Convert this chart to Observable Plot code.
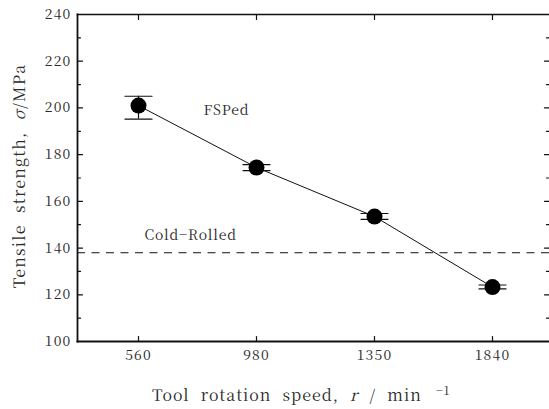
<!DOCTYPE html>
<html><head><meta charset="utf-8">
<script src="https://cdn.jsdelivr.net/npm/d3@7"></script>
<script src="https://cdn.jsdelivr.net/npm/@observablehq/plot@0.6"></script>
<style>body{margin:0;background:#fff}</style>
</head><body><div id="chart"></div>
<script>
const speeds = ["560", "980", "1350", "1840"];
const strength = [201.0, 174.5, 153.5, 123.3];
const errLow = [195.2, 173.2, 152.3, 122.5];
const errHigh = [205.0, 175.7, 154.8, 124.2];
const coldRolled = 138;
const yTicks = [100, 120, 140, 160, 180, 200, 220, 240];
const yMinor = [110, 130, 150, 170, 190, 210, 230];
const labelFSP = "FSPed";
const labelCold = "Cold\u2212Rolled";

const data = speeds.map((s, i) => ({speed: s, y: strength[i], lo: errLow[i], hi: errHigh[i]}));
const seg = {draw(ctx, l) { ctx.moveTo(0, 0); ctx.lineTo(0, -l); }};
const ink = "#111";
const txt = "#2a2a2a";
const serif = "'Noto Serif CJK KR', 'DejaVu Serif', serif";

const tick = (values, opts) => Plot.vector(values, {anchor: "start", shape: seg, stroke: ink, strokeWidth: 1.2, ...opts});

const chart = Plot.plot({
  width: 549, height: 409,
  marginLeft: 77, marginRight: 0, marginTop: 14, marginBottom: 68,
  style: {fontFamily: serif, fontSize: "14px", color: txt, background: "#fff"},
  x: {type: "point", domain: speeds, padding: 0.4887, align: 0.513, label: null},
  y: {domain: [100, 240], label: null},
  marks: [
    Plot.axisY({ticks: yTicks, tickSize: 0, tickPadding: 6, fill: txt, label: null, className: "tl"}),
    Plot.axisX({tickSize: 0, tickPadding: 9, fill: txt, label: null, className: "tl"}),
    tick(yTicks, {y: d => d, frameAnchor: "left", rotate: 90, length: 5}),
    tick(yMinor, {y: d => d, frameAnchor: "left", rotate: 90, length: 3}),
    tick(yTicks, {y: d => d, frameAnchor: "right", rotate: -90, length: 5}),
    tick(yMinor, {y: d => d, frameAnchor: "right", rotate: -90, length: 3}),
    tick(speeds, {x: d => d, frameAnchor: "bottom", rotate: 0, length: 5}),
    tick(speeds, {x: d => d, frameAnchor: "top", rotate: 180, length: 5}),
    Plot.frame({anchor: "left", stroke: ink, strokeWidth: 1.8}),
    Plot.frame({anchor: "bottom", stroke: ink, strokeWidth: 1.8}),
    Plot.frame({anchor: "top", stroke: ink, strokeWidth: 1.6}),
    Plot.ruleY([coldRolled], {stroke: ink, strokeWidth: 1, strokeDasharray: "8,6.5"}),
    Plot.text([labelCold], {x: () => speeds[0], y: () => 145.4, text: d => d, textAnchor: "start", dx: 6, fill: txt, fontSize: 14, className: "ann"}),
    Plot.text([labelFSP], {x: () => speeds[0], y: () => 198.9, text: d => d, textAnchor: "start", dx: 65, fill: txt, fontSize: 14, className: "ann"}),
    Plot.line(data, {x: "speed", y: "y", stroke: ink, strokeWidth: 1}),
    Plot.ruleX(data, {x: "speed", y1: "lo", y2: "hi", stroke: ink, strokeWidth: 1.2}),
    Plot.vector(data, {x: "speed", y: "hi", rotate: 90, anchor: "middle", length: 27, shape: seg, stroke: ink, strokeWidth: 1.2}),
    Plot.vector(data, {x: "speed", y: "lo", rotate: 90, anchor: "middle", length: 27, shape: seg, stroke: ink, strokeWidth: 1.2}),
    Plot.dot(data, {x: "speed", y: "y", r: 8, fill: "#000", stroke: "none"})
  ]
});

const svg = d3.select(chart);
const xt = svg.append("text")
  .attr("x", 152).attr("y", 401)
  .attr("text-anchor", "start")
  .attr("fill", txt).attr("font-size", 16)
  .style("letter-spacing", "1px").style("word-spacing", "6px");
xt.append("tspan").text("Tool rotation speed, ");
xt.append("tspan").attr("font-style", "italic").text("r");
xt.append("tspan").text(" / min ");
xt.append("tspan").attr("font-size", 12).attr("dy", -6).attr("dx", 3).style("word-spacing", "0").style("letter-spacing", "0.5px").text("\u22121");

const yt = svg.append("text")
  .attr("transform", "translate(25,176) rotate(-90)")
  .attr("text-anchor", "middle")
  .attr("fill", txt).attr("font-size", 16)
  .style("letter-spacing", "1.2px").style("word-spacing", "6px");
yt.append("tspan").text("Tensile strength, ");
yt.append("tspan").attr("font-style", "italic").text("\u03c3");
yt.append("tspan").text("/MPa");

svg.selectAll("text").style("font-family", serif);
svg.selectAll(".tl text").style("letter-spacing", "1.2px");
svg.selectAll(".ann text").style("letter-spacing", "0.8px");

document.getElementById("chart").appendChild(chart);
</script>
</body></html>
